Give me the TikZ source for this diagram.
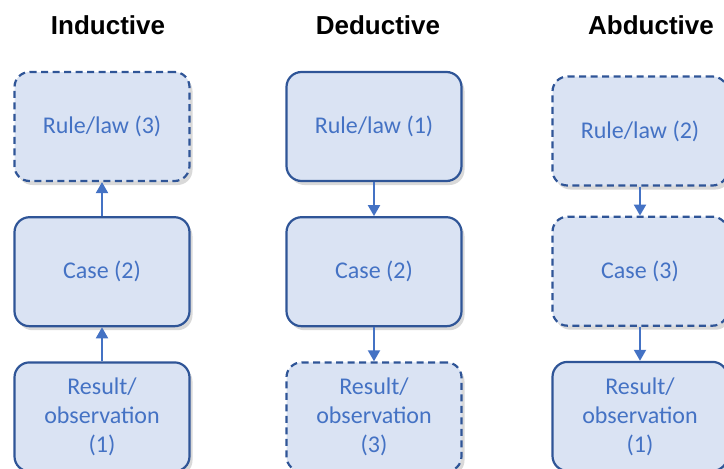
\documentclass[tikz,border=0pt]{standalone}
\usepackage{fontspec}
\setmainfont{Carlito}
\newfontfamily\headfont{Liberation Sans}
\usepackage{xcolor}
\usetikzlibrary{arrows.meta,positioning,shadows}

\definecolor{boxfill}{HTML}{DAE3F3}
\definecolor{boxline}{HTML}{2F5597}
\definecolor{boxtext}{HTML}{4472C4}

\begin{document}
\begin{tikzpicture}[
    x=1pt,y=-1pt,
    >={Triangle[length=11pt,width=12pt]},
    node distance=34pt,
    stage/.style={rectangle,rounded corners=15pt,draw=boxline,line width=2.2pt,
      fill=boxfill,text=boxtext,minimum width=175pt,minimum height=109pt,
      align=center,font=\fontsize{24}{29}\selectfont,
      drop shadow={shadow xshift=3pt,shadow yshift=-4pt,opacity=.25,fill=black!60}},
    guess/.style={dash pattern=on 7pt off 4.5pt},
    lnk/.style={->,line width=2pt,boxtext},
    head/.style={font=\headfont\bfseries\fontsize{26}{30}\selectfont},
  ]
  \useasboundingbox (0,0) rectangle (724,469);
  \clip (0,0) rectangle (724,469);

  % -- inductive: from the result up to the rule --
  \node[head] (indh) at (108,25) {Inductive};
  \node[stage,guess] (indrule) at (102,126.5) {Rule/law (3)};
  \node[stage,below=of indrule] (indcase) {Case (2)};
  \node[stage,below=of indcase] (indres) {Result/\\observation\\(1)};
  \draw[lnk] (indres) -- (indcase);
  \draw[lnk] (indcase) -- (indrule);

  % -- deductive: from the rule down to the result --
  \node[head] (dedh) at (378,25) {Deductive};
  \node[stage] (dedrule) at (374,126.5) {Rule/law (1)};
  \node[stage,below=of dedrule] (dedcase) {Case (2)};
  \node[stage,guess,below=of dedcase] (dedres) {Result/\\observation\\(3)};
  \draw[lnk] (dedrule) -- (dedcase);
  \draw[lnk] (dedcase) -- (dedres);

  % -- abductive: rule and result give the case --
  \node[head] (abdh) at (651,25) {Abductive};
  \node[stage,guess] (abdrule) at (640,131) {Rule/law (2)};
  \node[stage,guess,below=29pt of abdrule] (abdcase) {Case (3)};
  \node[stage,below=of abdcase] (abdres) {Result/\\observation\\(1)};
  \draw[lnk] (abdrule) -- (abdcase);
  \draw[lnk] (abdcase) -- (abdres);
\end{tikzpicture}
\end{document}
